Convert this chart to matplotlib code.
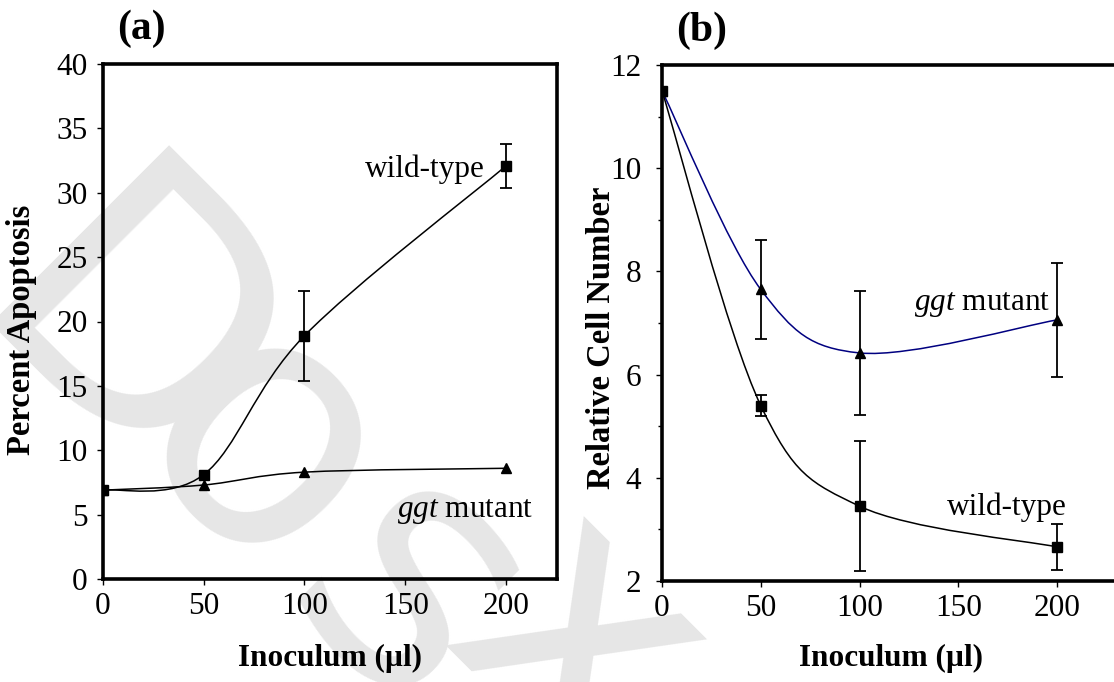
import numpy as np
import matplotlib
matplotlib.use("Agg")
import matplotlib.pyplot as plt
from matplotlib.path import Path
from matplotlib.patches import PathPatch

plt.rcParams["font.family"] = ["Liberation Serif", "DejaVu Serif"]
plt.rcParams["mathtext.fontset"] = "custom"
plt.rcParams["mathtext.it"] = "Liberation Serif:italic"
plt.rcParams["mathtext.rm"] = "Liberation Serif"

# inoculum (ul)
inoculum = [0, 50, 100, 200]

# (a) percent apoptosis
apop_wt = [6.9, 8.1, 18.9, 32.1]
apop_wt_err = [0, 0, 3.5, 1.7]
apop_ggt = [6.9, 7.3, 8.3, 8.6]

# (b) relative cell number
cells_wt = [11.5, 5.4, 3.45, 2.66]
cells_wt_err = [0, 0.21, 1.26, 0.45]
cells_ggt = [11.5, 7.65, 6.42, 7.06]
cells_ggt_err = [0, 0.96, 1.2, 1.11]

W, H = 1114, 682


def smooth_path(xs, ys):
    # Catmull-Rom style bezier through the points (like Excel "smoothed line")
    pts = np.column_stack([xs, ys]).astype(float)
    n = len(pts)
    verts = [pts[0]]
    codes = [Path.MOVETO]
    for i in range(n - 1):
        p0 = pts[max(i - 1, 0)]
        p1 = pts[i]
        p2 = pts[i + 1]
        p3 = pts[min(i + 2, n - 1)]
        verts += [p1 + (p2 - p0) / 6, p2 - (p3 - p1) / 6, p2]
        codes += [Path.CURVE4] * 3
    return Path(verts, codes)


def draw_series(ax, ys, err, marker, color):
    ax.add_patch(PathPatch(smooth_path(inoculum, ys), fill=False,
                           edgecolor=color, lw=1.1, zorder=3))
    x = np.array(inoculum)
    y = np.array(ys)
    if err is not None:
        e = np.array(err)
        m = e > 0
        ax.errorbar(x[m], y[m], yerr=e[m], fmt="none", ecolor="black",
                    elinewidth=1.3, capsize=4.3, capthick=1.3, zorder=4)
    ax.plot(x, y, linestyle="none", marker=marker, color="black",
            markersize=7, zorder=5)


def px(x, y):
    return x / W, 1 - y / H


def style_axes(ax):
    for s in ax.spines.values():
        s.set_linewidth(2.6)
    ax.tick_params(direction="out", length=4, width=1.0, labelsize=22.5,
                   top=False, right=False)
    ax.tick_params(axis="x", pad=5)
    ax.tick_params(axis="y", pad=7)
    ax.patch.set_alpha(0)


fig = plt.figure(figsize=(W / 100, H / 100), dpi=100)

# faint watermark letters
wm = dict(color="#e6e6e6", fontsize=250, family="DejaVu Sans", ha="center",
          va="center", rotation=-45, zorder=-5)
fig.text(*px(118, 350), "D", **wm)
fig.text(*px(258, 458), "o", **wm)
fig.text(*px(405, 600), "s", **wm)
fig.text(*px(575, 650), "x", **wm)

# ---- panel (a)
ax1 = fig.add_axes([102.7 / W, (H - 579) / H, 454 / W, 515 / H])
draw_series(ax1, apop_wt, apop_wt_err, "s", "black")
draw_series(ax1, apop_ggt, None, "^", "black")
ax1.set_xlim(0, 225)
ax1.set_ylim(0, 40)
ax1.set_xticks([0, 50, 100, 150, 200])
ax1.set_yticks(range(0, 41, 5))
style_axes(ax1)

# ---- panel (b)
ax2 = fig.add_axes([662 / W, (H - 581) / H, 480 / W, 516 / H])
draw_series(ax2, cells_ggt, cells_ggt_err, "^", "#000080")
draw_series(ax2, cells_wt, cells_wt_err, "s", "black")
ax2.set_xlim(0, 243)
ax2.set_ylim(2, 12)
ax2.set_xticks([0, 50, 100, 150, 200])
ax2.set_yticks(range(2, 13, 2))
ax2.set_yticks(range(3, 12, 2), minor=True)
style_axes(ax2)
ax2.tick_params(axis="y", which="minor", direction="out", length=3, width=1.0)
ax2.tick_params(axis="y", pad=11)

# labels
fig.text(*px(330, 658), "Inoculum (\u00b5l)", fontsize=22.5, fontweight="bold",
         ha="center", va="center")
fig.text(*px(891, 658), "Inoculum (\u00b5l)", fontsize=22.5, fontweight="bold",
         ha="center", va="center")
fig.text(*px(22, 330), "Percent Apoptosis", rotation=90, fontsize=23.5,
         fontweight="bold", ha="center", va="center")
fig.text(*px(602, 338), "Relative Cell Number", rotation=90, fontsize=23.5,
         fontweight="bold", ha="center", va="center")
fig.text(*px(141, 29), "(a)", fontsize=30, fontweight="bold", ha="center", va="center")
fig.text(*px(702, 31), "(b)", fontsize=30, fontweight="bold", ha="center", va="center")

# series annotations
ann = dict(fontsize=22.5, ha="right", va="baseline")
fig.text(*px(485, 177), "wild-type", **ann)
fig.text(*px(533, 517), "$\\it{ggt}$ mutant", **ann)
fig.text(*px(1050, 310), "$\\it{ggt}$ mutant", **ann)
fig.text(*px(1067, 515), "wild-type", **ann)

fig.savefig("out.png", dpi=100)
